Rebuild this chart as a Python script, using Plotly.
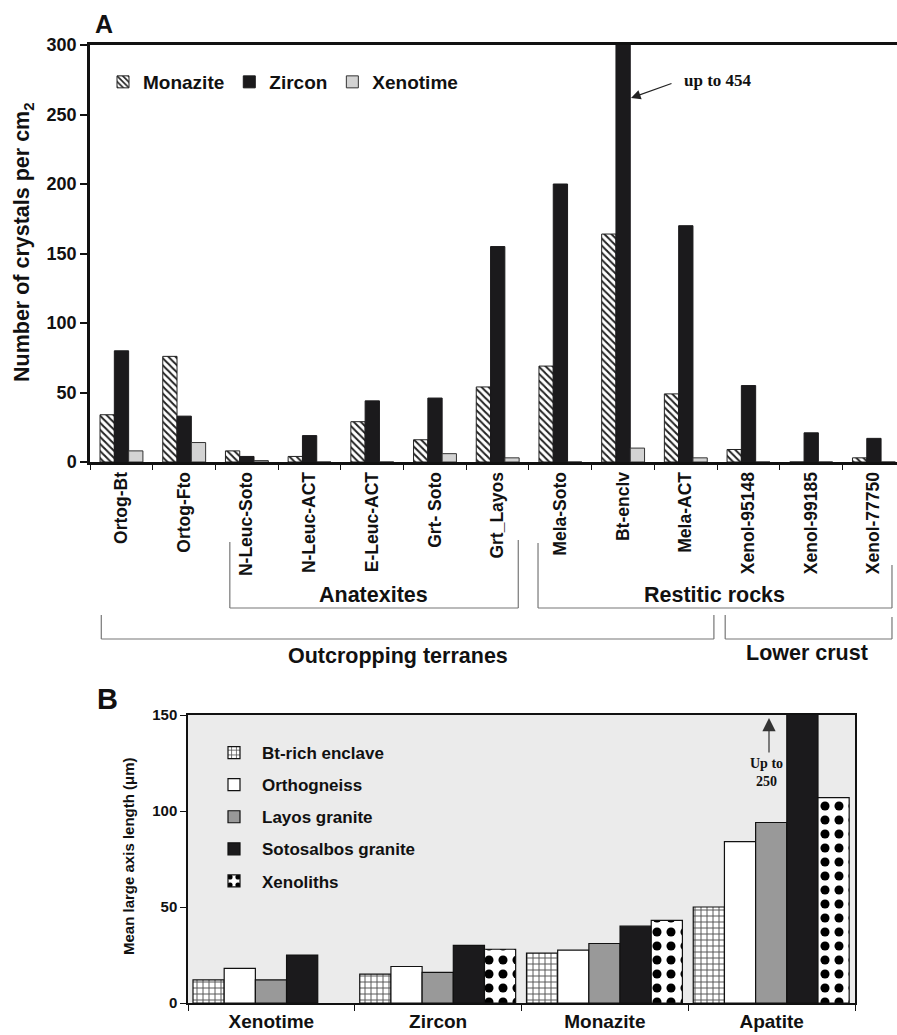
import plotly.graph_objects as go

# ---------------- data ----------------
samples = ["Ortog-Bt", "Ortog-Fto", "N-Leuc-Soto", "N-Leuc-ACT", "E-Leuc-ACT",
           "Grt- Soto", "Grt_Layos", "Mela-Soto", "Bt-enclv", "Mela-ACT",
           "Xenol-95148", "Xenol-99185", "Xenol-77750"]
monazite = [34, 76, 8, 4, 29, 16, 54, 69, 164, 49, 9, 0, 3]
zircon = [80, 33, 4, 19, 44, 46, 155, 200, 454, 170, 55, 21, 17]
xenotime = [8, 14, 1, 0, 0, 6, 3, 0, 10, 3, 0, 0, 0]

minerals = ["Xenotime", "Zircon", "Monazite", "Apatite"]
bt_enclave = [12, 15, 26, 50]
orthogneiss = [18, 19, 27.5, 84]
layos = [12, 16, 31, 94]
sotosalbos = [25, 30, 40, 250]
xenoliths = [None, 28, 43, 107]

W, H = 897, 1035
SANS = "Liberation Sans, Arial, sans-serif"
SERIF = "Liberation Serif, Times New Roman, serif"


def py(px):
    return 1 - px / H


def pxx(px):
    return px / W


fig = go.Figure()

# ---------------- panel A ----------------
wA = 0.228
offA = [-0.34, -0.112, 0.116]
fig.add_trace(go.Bar(
    x=samples, y=monazite, name="Monazite", xaxis="x", yaxis="y",
    width=wA, offset=offA[0], legend="legend",
    marker=dict(color="white", line=dict(color="#222", width=1),
                pattern=dict(shape="\\", fgcolor="#222", bgcolor="white",
                             fgopacity=1, size=5, solidity=0.4)),
))
fig.add_trace(go.Bar(
    x=samples, y=zircon, name="Zircon", xaxis="x", yaxis="y",
    width=wA, offset=offA[1], legend="legend",
    marker=dict(color="#1b1a1c", line=dict(color="#1b1a1c", width=1)),
))
fig.add_trace(go.Bar(
    x=samples, y=xenotime, name="Xenotime", xaxis="x", yaxis="y",
    width=wA, offset=offA[2], legend="legend",
    marker=dict(color="#d3d3d3", line=dict(color="#333", width=1)),
))

# ---------------- panel B ----------------
wB = 0.187
startB = -0.47
seriesB = [
    ("Bt-rich enclave", bt_enclave,
     dict(color="white", line=dict(color="#111", width=1.2),
          pattern=dict(shape="+", fgcolor="#555", bgcolor="white", fgopacity=1,
                       size=6, solidity=0.3))),
    ("Orthogneiss", orthogneiss,
     dict(color="white", line=dict(color="#111", width=1.2))),
    ("Layos granite", layos,
     dict(color="#999999", line=dict(color="#111", width=1.2))),
    ("Sotosalbos granite", sotosalbos,
     dict(color="#1b1a1c", line=dict(color="#111", width=1.2))),
    ("Xenoliths", xenoliths,
     dict(color="white", line=dict(color="#111", width=1.2),
          pattern=dict(shape=".", fgcolor="#000", bgcolor="white", fgopacity=1,
                       size=14, solidity=0.33))),
]
for i, (nm, vals, mk) in enumerate(seriesB):
    fig.add_trace(go.Bar(
        x=minerals, y=vals, name=nm, xaxis="x2", yaxis="y2",
        width=wB, offset=startB + i * wB, marker=mk, legend="legend2",
        legendgroup=nm,
    ))

fig.update_layout(
    width=W, height=H, autosize=False,
    margin=dict(l=0, r=0, t=0, b=0, pad=0),
    paper_bgcolor="white", plot_bgcolor="white",
    barmode="overlay",
    font=dict(family=SANS, color="#111"),
    xaxis=dict(
        domain=[pxx(90), 1.0], anchor="y", type="category", automargin=False,
        range=[-0.5, 12.37], showline=True, mirror=True, linecolor="#111",
        linewidth=3, ticks="outside", tickson="boundaries", ticklen=5,
        tickwidth=1.2, tickcolor="#111", tickangle=-90,
        tickfont=dict(size=17.5, weight="bold", family=SANS),
        showgrid=False, zeroline=False,
    ),
    yaxis=dict(
        domain=[py(462), py(45)], anchor="x", range=[0, 300], automargin=False,
        tickvals=[0, 50, 100, 150, 200, 250, 300],
        showline=True, linecolor="#111", linewidth=2.5,
        ticks="outside", ticklen=7, tickwidth=2, tickcolor="#111",
        tickfont=dict(size=18, weight="bold", family=SANS),
        showgrid=False, zeroline=False,
    ),
    xaxis2=dict(
        domain=[pxx(188), pxx(855)], anchor="y2", type="category", automargin=False,
        range=[-0.5, 3.5], showline=True, mirror=True, linecolor="#111",
        linewidth=1.5, ticks="outside", tickson="boundaries", ticklen=6,
        tickwidth=1.2, tickcolor="#111",
        tickfont=dict(size=19, weight="bold", family=SANS),
        showgrid=False, zeroline=False,
    ),
    yaxis2=dict(
        domain=[py(1003), py(715)], anchor="x2", range=[0, 150], automargin=False,
        tickvals=[0, 50, 100, 150],
        showline=True, mirror=True, linecolor="#111", linewidth=1.5,
        ticks="outside", ticklen=6, tickwidth=1.2, tickcolor="#111",
        tickfont=dict(size=15, weight="bold", family=SANS),
        showgrid=False, zeroline=False,
    ),
    legend=dict(
        orientation="h", x=pxx(103), y=py(82), xanchor="left", yanchor="middle",
        bgcolor="rgba(0,0,0,0)", font=dict(size=19, weight="bold", family=SANS),
        itemclick=False, itemdoubleclick=False,
    ),
    legend2=dict(
        orientation="v", x=pxx(206), y=py(735), xanchor="left", yanchor="top",
        bgcolor="rgba(0,0,0,0)", font=dict(size=17, weight="bold", family=SANS),
        itemwidth=46, tracegroupgap=7,
        itemclick=False, itemdoubleclick=False,
    ),
    showlegend=True,
)

# panel B background
fig.add_shape(type="rect", xref="x2 domain", yref="y2 domain", x0=0, x1=1, y0=0, y1=1,
              fillcolor="#ebebeb", line=dict(width=0), layer="below")

# ---------------- brackets (panel A groups) ----------------
br = dict(color="#777", width=1.2)
idx = {s: i for i, s in enumerate(samples)}
brackets = [
    # (left x, right x, top-left y, top-right y, bottom y)
    (idx["N-Leuc-Soto"] - 0.27, idx["Grt_Layos"] + 0.33, 542, 540, 608),
    (idx["Mela-Soto"] - 0.355, idx["Xenol-77750"] + 0.29, 543, 565, 608),
    (idx["Ortog-Bt"] - 0.32, idx["Xenol-95148"] - 0.55, 615, 615, 639),
    (idx["Xenol-95148"] - 0.37, idx["Xenol-77750"] + 0.29, 615, 617, 639),
]
for x0, x1, yl, yr, yb in brackets:
    fig.add_shape(type="line", xref="x", yref="paper", x0=x0, x1=x0, y0=py(yl), y1=py(yb), line=br)
    fig.add_shape(type="line", xref="x", yref="paper", x0=x1, x1=x1, y0=py(yr), y1=py(yb), line=br)
    fig.add_shape(type="line", xref="x", yref="paper", x0=x0, x1=x1, y0=py(yb), y1=py(yb), line=br)


def label(txt, xc, yc, size, family=SANS, angle=0, **kw):
    fig.add_annotation(text=txt, xref="paper", yref="paper", x=pxx(xc), y=py(yc),
                       showarrow=False, xanchor="center", yanchor="middle",
                       textangle=angle,
                       font=dict(size=size, weight="bold", family=family, color="#111"), **kw)


for txt, xc, yc in [("Anatexites", 373, 595), ("Restitic rocks", 714, 595),
                    ("Outcropping terranes", 398, 656), ("Lower crust", 807, 653)]:
    label(txt, xc, yc, 21.5)

# ---------------- titles / labels ----------------
label("A", 104, 24, 25)
label("B", 107, 699, 29)
label("Number of crystals per cm<sub>2</sub>", 23, 242, 21.5, angle=-90)
label("Mean large axis length (μm)", 128, 856, 15, angle=-90)

# "up to 454"
fig.add_annotation(text="", xref="paper", yref="paper", x=pxx(631), y=py(98),
                   ax=42, ay=-15, showarrow=True, arrowhead=2, arrowsize=1.6,
                   arrowwidth=1.2, arrowcolor="#222")
label("up to 454", 718, 80, 17, family=SERIF)

# "Up to 250"
fig.add_annotation(text="", xref="paper", yref="paper", x=pxx(769), y=py(718),
                   ax=0, ay=36, showarrow=True, arrowhead=2, arrowsize=2.2,
                   arrowwidth=1.2, arrowcolor="#333")
label("Up to<br>250", 766, 772, 14, family=SERIF, align="center")

fig.write_html("out.html", config={"displayModeBar": False},
               post_script="document.body.style.margin='0';")
